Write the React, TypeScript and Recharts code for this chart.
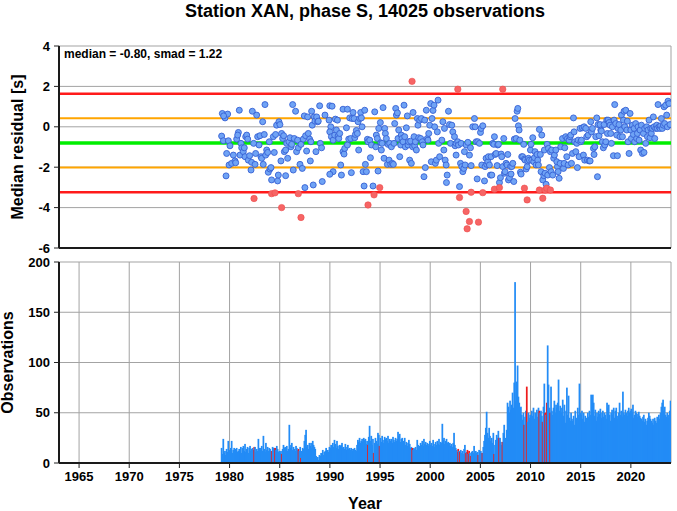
import React from "react"
import {
  ScatterChart,
  Scatter,
  BarChart,
  Bar,
  Cell,
  XAxis,
  YAxis,
  CartesianGrid,
  ReferenceLine,
} from "recharts"

const FONT = "'Liberation Sans', Arial, Helvetica, sans-serif"

const MEDIAN = -0.8
const SMAD = 1.22

const yearTicks = [1965, 1970, 1975, 1980, 1985, 1990, 1995, 2000, 2005, 2010, 2015, 2020]
const residualTicks = [-6, -4, -2, 0, 2, 4]
const obsTicks = [0, 50, 100, 150, 200]

// median residual per time bin [year, seconds]
const pts1979: [number, number][] = [
  [1979.28, 0.66], [1979.55, 0.44], [1979.81, 0.63], [1979.41, 0.54], [1979.21, -0.46], [1979.38, -0.69],
  [1979.65, -2.43], [1979.71, -1.32], [1979.88, -0.69], [1980.04, -0.94], [1979.95, -1.89], [1980.21, -1.81],
  [1980.38, -1.4], [1980.54, -1.69], [1980.61, -1.78], [1980.71, -0.61], [1980.88, -0.28], [1980.81, -0.41],
  [1980.97, 0.82], [1981.04, -1.4], [1981.14, -0.82], [1981.21, -1.04], [1981.37, -1.23], [1981.47, -1.04],
  [1981.54, -1.48], [1981.61, -0.49], [1981.71, -0.41], [1981.81, -0.61], [1981.87, -1.65], [1982.0, -1.43],
  [1982.14, -2.14], [1982.2, -1.76], [1982.27, 0.77], [1982.4, -0.82], [1982.54, -1.86], [1982.6, -1.32],
  [1982.7, 0.58], [1982.8, -0.49], [1982.94, -0.9], [1983.03, -0.44], [1983.13, -1.48], [1983.2, -1.56],
  [1983.3, 0.25], [1983.36, -1.86], [1983.46, -0.38], [1983.53, 1.1], [1983.6, -1.4], [1983.7, -1.15],
  [1983.8, -1.27], [1983.86, -2.25], [1983.96, -0.74], [1984.03, -2.09], [1984.13, -2.02], [1984.19, -2.63],
  [1984.36, -0.49], [1984.46, -1.27], [1984.59, -0.38], [1984.69, 0.08], [1984.79, -2.68], [1984.86, -2.39],
  [1984.92, 0.25], [1985.02, 0.11], [1985.12, -1.69], [1985.19, -0.33], [1985.29, -0.58], [1985.39, -0.44],
  [1985.46, -1.23], [1985.59, -1.15], [1985.59, -2.42], [1985.69, -0.82], [1985.79, -1.56], [1985.92, -0.74],
  [1986.02, -0.54], [1986.12, -0.99], [1986.19, -0.87], [1986.29, 1.1], [1986.35, -2.14], [1986.45, -0.58],
  [1986.58, 0.77], [1986.68, -1.23], [1986.78, -0.66], [1986.85, -1.04], [1987.02, -1.86], [1987.12, -0.87],
  [1987.25, -2.06], [1987.35, -0.61], [1987.45, 0.54], [1987.51, -3.01], [1987.58, -0.44], [1987.68, -1.2],
  [1987.78, 0.49], [1987.85, -0.33], [1987.98, -0.61], [1988.05, -1.69], [1988.11, -0.74], [1988.18, 0.77],
  [1988.24, 0.08], [1988.34, -2.88], [1988.44, 0.49], [1988.51, 0.28], [1988.61, -1.23], [1988.68, 0.49],
  [1988.78, 0.25], [1988.84, 0.28], [1988.98, 1.04], [1989.04, -0.82], [1989.17, -1.04], [1989.24, -2.71],
  [1989.51, 0.58],
]

const pts1990: [number, number][] = [
  [1989.99, 1.04], [1990.22, 1.02], [1989.92, 0.33], [1990.09, 0.0], [1989.99, -0.25], [1990.15, -0.49],
  [1990.32, -0.66], [1990.48, -0.41], [1990.55, 0.38], [1990.65, -0.16], [1990.75, 0.33], [1990.82, -0.46],
  [1990.88, -0.58], [1990.98, -0.33], [1991.08, -1.89], [1990.32, -2.22], [1989.99, -2.35], [1991.15, -2.39],
  [1991.31, 0.87], [1991.31, -1.23], [1991.41, -1.35], [1991.48, -1.07], [1991.65, -0.05], [1991.75, 0.87],
  [1991.75, -0.9], [1991.88, -0.61], [1991.98, 0.44], [1992.08, -0.58], [1992.14, -2.27], [1992.21, 0.41],
  [1992.31, 0.71], [1992.41, 0.41], [1992.48, -0.54], [1992.54, -0.38], [1992.64, -0.18], [1992.74, -0.33],
  [1992.81, 0.25], [1992.87, -1.15], [1992.97, 0.41], [1993.07, 0.71], [1993.14, 0.44], [1993.21, 0.0],
  [1993.31, -2.22], [1993.41, -2.93], [1993.47, 0.82], [1993.54, -1.86], [1993.64, -2.22], [1993.74, -0.62],
  [1993.8, -0.74], [1993.97, -0.66], [1994.04, -1.53], [1994.14, -0.9], [1994.3, -2.93], [1994.47, 0.74],
  [1994.57, -0.99], [1994.63, -0.41], [1994.73, -0.58], [1994.8, -2.19], [1994.87, -0.08], [1995.03, 0.21],
  [1995.08, -0.79], [1995.13, -1.15], [1995.2, -0.82], [1995.3, 0.95], [1995.4, -1.56], [1995.46, -0.08],
  [1995.53, -0.33], [1995.63, -0.58], [1995.73, -1.86], [1995.8, -0.87], [1995.9, -1.65], [1995.96, -0.82],
  [1996.06, -1.86], [1996.13, -0.99], [1996.23, -1.81], [1996.33, -1.86], [1996.39, -0.82], [1996.46, 0.16],
  [1996.56, 0.91], [1996.63, 0.58], [1996.73, 0.69], [1996.79, -0.58], [1996.86, -0.16], [1996.96, -1.48],
  [1997.06, -0.9], [1997.12, -0.41], [1997.19, -0.58], [1997.29, -0.74], [1997.39, 1.07], [1997.46, -0.49],
  [1997.52, -0.99], [1997.62, -0.05], [1997.72, 0.54], [1997.79, -0.9], [1997.85, -0.74], [1997.95, -1.65],
  [1998.05, -0.71], [1998.12, -1.81], [1998.25, -0.99], [1998.29, 0.71], [1998.39, -0.49], [1998.45, -0.94],
  [1998.52, -0.74], [1998.62, -1.15], [1998.72, 0.41], [1998.78, 0.08], [1998.85, -0.54], [1998.95, 0.33],
  [1999.05, -0.58], [1999.12, 0.41], [1999.22, -0.74], [1999.28, -0.9], [1999.38, -2.47], [1999.45, 0.33],
  [1999.51, -2.02], [1999.61, 0.82], [1999.71, -0.58], [1999.78, -0.66], [1999.85, -0.33], [1999.95, 0.08],
  [2000.05, 1.15], [2000.11, -1.73], [2000.18, 0.41], [2000.28, 0.81], [2000.38, 1.07], [2000.44, 0.0],
  [2000.51, -1.81], [2000.61, -1.65], [2000.71, -0.25], [2000.78, 1.32], [2000.84, -0.82], [2000.94, -1.48],
]

const pts2001: [number, number][] = [
  [2001.26, 0.25], [2001.42, -0.08], [2001.16, -0.66], [2001.36, -1.15], [2001.49, -1.65], [2001.59, -1.89],
  [2001.69, -2.39], [2001.62, -2.76], [2001.82, 0.77], [2001.92, 0.11], [2002.02, -0.82], [2002.15, 0.08],
  [2002.25, -0.25], [2002.42, -0.49], [2002.48, -0.94], [2002.58, -1.4], [2002.58, -0.82], [2002.75, -0.74],
  [2002.82, -0.9], [2002.92, -2.96], [2003.02, -1.81], [2003.08, -0.82], [2003.15, -1.97], [2003.25, -2.22],
  [2003.35, -2.06], [2003.41, -1.23], [2003.48, -1.89], [2003.58, -0.9], [2003.75, -0.77], [2003.91, -1.4],
  [2004.01, -1.04], [2004.08, -1.92], [2004.24, 0.0], [2004.41, 0.41], [2004.48, 0.0], [2004.58, -0.74],
  [2004.68, -2.58], [2004.74, -0.74], [2004.91, -0.82], [2005.01, -0.28], [2005.07, -0.08], [2005.14, -1.89],
  [2005.24, 0.05], [2005.41, -2.68], [2005.47, -1.97], [2005.57, -1.56], [2005.64, -1.86], [2005.74, -1.73],
  [2005.8, -1.48], [2005.9, -1.89], [2006.0, -2.39], [2006.07, -1.48], [2006.14, -2.39], [2006.24, -0.82],
  [2006.34, -0.87], [2006.4, -0.49], [2006.47, -1.37], [2006.57, -1.32], [2006.67, -1.92], [2006.73, -0.9],
  [2006.8, -0.87], [2006.9, -2.76], [2007.0, -2.52], [2007.07, -1.35], [2007.13, -1.48], [2007.23, -1.97],
  [2007.33, -0.58], [2007.4, -2.3], [2007.46, -2.22], [2007.56, -1.81], [2007.66, -1.89], [2007.73, -1.37],
  [2007.8, -2.63], [2007.9, -2.52], [2008.0, -1.97], [2008.06, -2.34], [2008.13, -1.97], [2008.23, -1.81],
  [2008.33, -2.71], [2008.39, -0.61], [2008.46, 0.41], [2008.56, -0.58], [2008.66, 0.77], [2008.73, 0.91],
  [2008.79, 0.05], [2008.86, -0.16], [2008.93, -0.66], [2008.99, -2.25], [2009.06, -2.34], [2009.12, -1.48],
  [2009.22, -1.48], [2009.32, -0.87], [2009.39, -1.6], [2009.46, -1.65], [2009.56, -2.09], [2009.66, -1.97],
  [2009.72, -1.69], [2009.79, -1.56], [2009.89, -1.65], [2009.99, -1.15], [2010.05, -0.87], [2010.12, -1.65],
  [2010.22, -0.54], [2010.32, -1.73], [2010.39, -1.53], [2010.45, -1.23], [2010.55, -1.89], [2010.65, -1.37],
  [2010.72, -1.65], [2010.78, -1.89], [2010.88, -0.13], [2010.98, -1.37], [2011.05, -2.22], [2011.12, -0.41],
  [2011.22, -2.63], [2011.32, -2.42], [2011.38, -1.15], [2011.45, -2.3], [2011.55, -2.85], [2011.65, -0.87],
  [2011.71, -2.39], [2011.78, -1.07], [2011.88, -2.02], [2011.98, -1.23], [2012.05, -2.22], [2012.11, -1.15],
  [2012.21, -2.39], [2012.31, -1.56], [2012.38, -1.4],
]

const pts2012: [number, number][] = [
  [2012.52, -1.15], [2012.68, -1.97], [2012.85, -2.55], [2012.62, -1.73], [2012.75, -2.22], [2012.95, -1.81],
  [2013.01, -0.99], [2013.18, -0.58], [2013.28, -2.06], [2013.35, -1.81], [2013.41, -1.04], [2013.51, -0.49],
  [2013.61, -1.48], [2013.68, -0.58], [2013.74, -1.89], [2013.84, -0.66], [2013.94, -0.49], [2014.01, -0.41],
  [2014.08, -1.81], [2014.18, -1.32], [2014.28, 0.44], [2014.34, -0.25], [2014.41, -0.74], [2014.51, -1.23],
  [2014.61, -0.82], [2014.67, -2.02], [2014.74, -0.66], [2014.84, -1.48], [2014.94, -0.08], [2015.01, -0.74],
  [2015.07, -0.66], [2015.17, -0.05], [2015.27, -1.4], [2015.34, 0.0], [2015.4, -1.65], [2015.5, -0.08],
  [2015.6, -0.49], [2015.67, -1.65], [2015.74, -0.41], [2015.84, -1.69], [2015.94, -1.69], [2016.0, 0.25],
  [2016.07, -0.25], [2016.17, -0.08], [2016.27, -1.07], [2016.33, -1.37], [2016.4, -0.99], [2016.5, -0.49],
  [2016.6, 0.44], [2016.67, -2.47], [2016.73, 0.11], [2016.83, -0.44], [2016.93, 0.11], [2017.0, -0.16],
  [2017.06, -0.21], [2017.16, -0.74], [2017.26, -1.04], [2017.33, 0.11], [2017.4, -0.9], [2017.5, -0.74],
  [2017.6, 0.33], [2017.66, -0.33], [2017.73, 0.33], [2017.83, 0.21], [2017.93, 0.08], [2017.99, -0.33],
  [2018.06, -0.82], [2018.16, 0.0], [2018.26, -1.43], [2018.33, 0.33], [2018.39, 1.1], [2018.49, 0.16],
  [2018.59, -0.41], [2018.66, -1.43], [2018.72, -0.08], [2018.82, 0.11], [2018.92, -0.49], [2018.99, -0.16],
  [2019.06, 0.58], [2019.16, -0.49], [2019.26, 0.33], [2019.32, 0.77], [2019.39, 0.0], [2019.49, 0.82],
  [2019.59, -0.16], [2019.65, 0.28], [2019.72, -0.74], [2019.82, -1.32], [2019.92, 0.66], [2019.99, -0.16],
  [2020.05, -0.58], [2020.15, 0.08], [2020.25, -0.38], [2020.32, -0.08], [2020.38, -0.74], [2020.48, 0.16],
  [2020.58, -0.58], [2020.65, -0.33], [2020.72, 0.0], [2020.82, -0.66], [2020.92, -0.16], [2020.98, -1.15],
  [2021.05, 0.08], [2021.15, -1.32], [2021.25, -0.33], [2021.31, -1.27], [2021.38, -0.08], [2021.48, -0.82],
  [2021.58, 0.0], [2021.65, -0.49], [2021.71, -0.16], [2021.81, 0.33], [2021.91, -0.54], [2021.98, -0.08],
  [2022.04, -0.33], [2022.14, -0.08], [2022.24, 0.49], [2022.31, 0.0], [2022.38, -0.58], [2022.48, -0.08],
  [2022.58, 0.08], [2022.64, -0.08], [2022.71, 1.1], [2022.81, 0.0], [2022.91, -0.08], [2022.97, 0.05],
  [2023.04, 0.41], [2023.14, -0.08], [2023.24, 0.08], [2023.31, 0.99], [2023.37, 0.16], [2023.47, 1.07],
  [2023.57, 0.58], [2023.64, 0.0], [2023.7, 1.27], [2023.8, 1.15], [2023.9, 0.11],
]

// bins flagged as outliers (drawn red)
const outlierPts: [number, number][] = [
  [1982.44, -3.55], [1984.19, -3.31], [1984.53, -3.27], [1985.19, -4.0], [1986.85, -3.31], [1987.12, -4.49],
  [1993.8, -3.87], [1994.4, -3.37], [1994.97, -3.01], [1998.19, 2.25], [2002.75, 1.86], [2007.23, 1.86],
  [2002.92, -3.5], [2003.58, -4.19], [2003.91, -4.69], [2003.68, -5.05], [2004.81, -4.72], [2004.08, -3.24],
  [2005.24, -3.26], [2006.4, -3.09], [2006.9, -3.01], [2009.39, -3.04], [2009.66, -3.62], [2010.88, -3.13],
  [2011.22, -3.54], [2011.45, -3.13], [2011.62, -3.04], [2011.98, -3.13],
]

// observations per month, one row per year
const obs1970s = [
  [0, 0, 15, 9, 24, 10, 12, 8, 14, 11, 22, 13], // 1979
]
const obs1980s = [
  [12, 15, 22, 10, 13, 15, 9, 14, 15, 11, 12, 14],
  [13, 16, 10, 15, 17, 12, 19, 11, 14, 16, 10, 15],
  [17, 12, 14, 15, 13, 16, 16, 11, 14, 12, 24, 15],
  [13, 15, 17, 12, 27, 14, 11, 20, 13, 16, 12, 15],
  [14, 12, 12, 16, 15, 15, 15, 13, 17, 14, 11, 12],
  [10, 12, 9, 14, 18, 15, 16, 13, 17, 12, 14, 38],
  [15, 18, 20, 13, 16, 14, 12, 17, 15, 13, 14, 12],
  [16, 5, 12, 15, 14, 22, 28, 33, 16, 18, 14, 20],
  [17, 20, 15, 22, 18, 16, 14, 7, 5, 6, 3, 8],
  [7, 10, 9, 13, 8, 11, 12, 15, 10, 13, 11, 16],
]
const obs1990s = [
  [15, 18, 14, 20, 16, 23, 19, 15, 22, 17, 14, 18],
  [17, 18, 20, 15, 16, 14, 19, 13, 16, 18, 14, 15],
  [13, 15, 14, 12, 14, 15, 13, 12, 18, 23, 21, 25],
  [20, 22, 24, 21, 25, 23, 24, 19, 22, 18, 26, 37],
  [22, 27, 18, 24, 10, 20, 25, 22, 19, 30, 28, 17],
  [25, 21, 27, 23, 20, 26, 24, 25, 22, 27, 20, 24],
  [22, 24, 20, 26, 23, 21, 25, 22, 24, 31, 27, 29],
  [21, 24, 25, 19, 22, 25, 18, 21, 17, 20, 23, 19],
  [15, 16, 15, 13, 15, 14, 16, 13, 23, 18, 15, 17],
  [20, 18, 22, 17, 24, 19, 21, 18, 20, 17, 19, 22],
]
const obs2000s = [
  [18, 20, 17, 23, 19, 16, 21, 18, 22, 19, 24, 18],
  [21, 20, 39, 23, 25, 19, 22, 24, 20, 21, 18, 20],
  [17, 19, 16, 20, 30, 18, 15, 13, 11, 14, 12, 11],
  [13, 10, 12, 9, 14, 18, 10, 11, 13, 9, 12, 10],
  [7, 11, 12, 10, 17, 9, 12, 10, 11, 8, 13, 9],
  [12, 10, 10, 16, 22, 28, 35, 51, 30, 25, 35, 27],
  [22, 25, 20, 30, 9, 18, 23, 28, 25, 32, 25, 25],
  [21, 18, 21, 30, 38, 22, 25, 33, 60, 56, 50, 62],
  [53, 58, 70, 55, 80, 180, 62, 81, 97, 66, 60, 55],
  [56, 48, 43, 50, 38, 46, 52, 76, 41, 50, 45, 48],
]
const obs2010s = [
  [45, 52, 47, 55, 44, 50, 48, 53, 46, 55, 52, 50],
  [52, 47, 41, 56, 79, 50, 48, 60, 117, 78, 55, 50],
  [76, 52, 48, 55, 62, 50, 58, 55, 60, 83, 52, 57],
  [55, 50, 63, 47, 58, 40, 52, 75, 48, 67, 45, 42],
  [50, 44, 42, 47, 38, 52, 45, 43, 55, 48, 79, 50],
  [48, 52, 44, 50, 41, 47, 45, 43, 50, 46, 52, 48],
  [68, 55, 68, 60, 47, 53, 42, 50, 46, 52, 49, 54],
  [45, 50, 52, 46, 50, 48, 44, 60, 55, 58, 48, 42],
  [50, 53, 48, 55, 45, 52, 55, 47, 44, 50, 60, 48],
  [52, 46, 71, 50, 48, 53, 50, 47, 52, 55, 50, 52],
]
const obs2020s = [
  [54, 50, 58, 45, 48, 52, 50, 46, 49, 51, 47, 45],
  [44, 42, 46, 48, 41, 44, 38, 42, 45, 50, 47, 44],
  [42, 40, 44, 38, 45, 42, 40, 46, 43, 48, 44, 50],
  [56, 60, 63, 52, 56, 48, 46, 50, 45, 48, 52, 62],
]

const toXY = (arr: [number, number][]) => arr.map(([x, y]) => ({ x, y }))
const bluePoints = toXY([...pts1979, ...pts1990, ...pts2001, ...pts2012])
const redPoints = toXY(outlierPts)

const monthKey = (t: number) => `${Math.floor(t)}-${Math.floor((t - Math.floor(t)) * 12)}`
const redMonths = new Set(outlierPts.map(([t]) => monthKey(t)))

const barData = [...obs1970s, ...obs1980s, ...obs1990s, ...obs2000s, ...obs2010s, ...obs2020s].flatMap(
  (row, i) =>
    row.map((n, m) => ({
      t: 1979 + i + (m + 0.5) / 12,
      n,
      red: redMonths.has(`${1979 + i}-${m}`),
    }))
)

const tickStyle = { fontSize: 13, fontWeight: 700, fill: "#000", fontFamily: FONT }
const frame = { stroke: "#1a1a1a", strokeWidth: 2 }
const rightFrame = { stroke: "#555", strokeWidth: 3 }

const BluePt = (p: any) => (
  <circle cx={p.cx} cy={p.cy} r={3} fill="#6fa3f5" stroke="#3761d4" strokeWidth={0.9} />
)
const RedPt = (p: any) => (
  <circle cx={p.cx} cy={p.cy} r={3.2} fill="#f66565" stroke="#ee4a4a" strokeWidth={0.6} />
)

// monthly bins are narrower than a pixel; widen each rect slightly so the histogram reads solid
const HistBar = (p: any) =>
  p.height > 0 ? (
    <rect x={p.x - 0.45} y={p.y} width={p.width + 0.9} height={p.height} fill={p.fill} />
  ) : null

export default function App() {
  return (
    <div style={{ position: "absolute", left: 0, top: 0, width: 677, height: 511, background: "#fff" }}>
      <div style={{ position: "absolute", left: 0, top: 0 }}>
        <ScatterChart width={677} height={255} margin={{ top: 46, right: 6, bottom: 0, left: 0 }}>
          <CartesianGrid stroke="#a3a3a3" strokeWidth={1} />
          <XAxis
            dataKey="x"
            type="number"
            domain={[1963, 2024]}
            ticks={yearTicks}
            interval={0}
            allowDataOverflow
            tick={false}
            height={7}
            tickSize={5}
            axisLine={frame}
            tickLine={{ stroke: "#222" }}
          />
          <XAxis
            xAxisId="top"
            dataKey="x"
            orientation="top"
            type="number"
            domain={[1963, 2024]}
            ticks={yearTicks}
            interval={0}
            allowDataOverflow
            tick={false}
            height={0}
            tickSize={4}
            axisLine={frame}
            tickLine={{ stroke: "#222" }}
          />
          <YAxis
            dataKey="y"
            type="number"
            domain={[-6, 4]}
            ticks={residualTicks}
            interval={0}
            allowDataOverflow
            width={59}
            tick={tickStyle}
            tickSize={5}
            tickMargin={4}
            axisLine={frame}
            tickLine={{ stroke: "#222" }}
          />
          <YAxis
            yAxisId="right"
            dataKey="y"
            orientation="right"
            type="number"
            domain={[-6, 4]}
            ticks={residualTicks}
            interval={0}
            allowDataOverflow
            width={0}
            tick={false}
            tickSize={4}
            axisLine={rightFrame}
            tickLine={{ stroke: "#222" }}
          />
          <ReferenceLine y={MEDIAN + 2 * SMAD} stroke="#ff1a1a" strokeWidth={2.5} />
          <ReferenceLine y={MEDIAN - 2 * SMAD} stroke="#ff1a1a" strokeWidth={2.5} />
          <ReferenceLine y={MEDIAN + SMAD} stroke="#ffa500" strokeWidth={2} />
          <ReferenceLine y={MEDIAN - SMAD} stroke="#ffa500" strokeWidth={2} />
          <ReferenceLine y={MEDIAN} stroke="#00ee00" strokeWidth={3.5} />
          <Scatter data={bluePoints} shape={BluePt} isAnimationActive={false} />
          <Scatter data={redPoints} shape={RedPt} isAnimationActive={false} />
        </ScatterChart>
      </div>

      <div style={{ position: "absolute", left: 0, top: 255 }}>
        <BarChart
          width={677}
          height={256}
          data={barData}
          margin={{ top: 7, right: 6, bottom: 0, left: 0 }}
          barGap={0}
          barCategoryGap={0}
        >
          <CartesianGrid stroke="#a3a3a3" strokeWidth={1} />
          <XAxis
            dataKey="t"
            type="number"
            domain={[1963, 2024]}
            ticks={yearTicks}
            interval={0}
            allowDataOverflow
            height={48}
            tick={tickStyle}
            tickSize={5}
            tickMargin={4}
            axisLine={frame}
            tickLine={{ stroke: "#222" }}
          />
          <XAxis
            xAxisId="top"
            dataKey="t"
            orientation="top"
            type="number"
            domain={[1963, 2024]}
            ticks={yearTicks}
            interval={0}
            allowDataOverflow
            tick={false}
            height={0}
            tickSize={4}
            axisLine={frame}
            tickLine={{ stroke: "#222" }}
          />
          <YAxis
            type="number"
            domain={[0, 200]}
            ticks={obsTicks}
            interval={0}
            allowDataOverflow
            width={59}
            tick={tickStyle}
            tickSize={5}
            tickMargin={4}
            axisLine={frame}
            tickLine={{ stroke: "#222" }}
          />
          <YAxis
            yAxisId="right"
            orientation="right"
            type="number"
            domain={[0, 200]}
            ticks={obsTicks}
            interval={0}
            allowDataOverflow
            width={0}
            tick={false}
            tickSize={4}
            axisLine={rightFrame}
            tickLine={{ stroke: "#222" }}
          />
          <Bar dataKey="n" shape={HistBar} isAnimationActive={false}>
            {barData.map((d, i) => (
              <Cell key={i} fill={d.red ? "#ee1c1c" : "#238cf6"} />
            ))}
          </Bar>
        </BarChart>
      </div>

      <svg
        width={677}
        height={511}
        style={{ position: "absolute", left: 0, top: 0, pointerEvents: "none" }}
        fontFamily={FONT}
        fontWeight={700}
      >
        <text x={365} y={16.5} fontSize={18} textAnchor="middle" fill="#000">
          Station XAN, phase S, 14025 observations
        </text>
        <text x={64} y={58} fontSize={12} fill="#000">
          median = -0.80, smad = 1.22
        </text>
        <text transform="translate(23,147) rotate(-90)" fontSize={16} textAnchor="middle" fill="#000">
          Median residual [s]
        </text>
        <text transform="translate(12.5,362.5) rotate(-90)" fontSize={16} textAnchor="middle" fill="#000">
          Observations
        </text>
        <text x={365} y={509} fontSize={16} textAnchor="middle" fill="#000">
          Year
        </text>
      </svg>
    </div>
  )
}
